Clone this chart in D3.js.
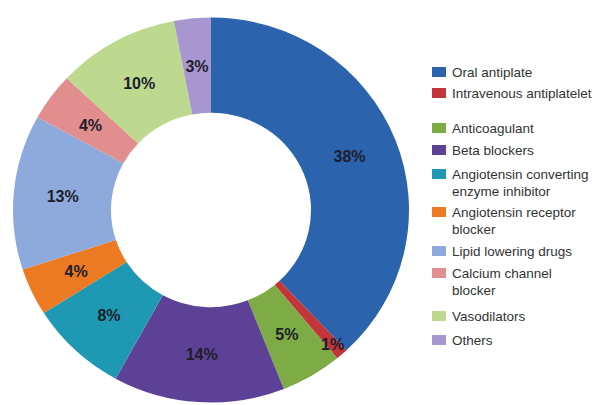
<!DOCTYPE html>
<html>
<head>
<meta charset="utf-8">
<script src="https://cdn.jsdelivr.net/npm/d3@7"></script>
<style>
  html, body { margin: 0; padding: 0; background: #fff; }
  svg { display: block; }
</style>
</head>
<body>
<svg id="chart" width="595" height="405"></svg>
<script>
// ---- data ----
const categories = [
  "Oral antiplate",
  "Intravenous antiplatelet",
  "Anticoagulant",
  "Beta blockers",
  "Angiotensin converting enzyme inhibitor",
  "Angiotensin receptor blocker",
  "Lipid lowering drugs",
  "Calcium channel blocker",
  "Vasodilators",
  "Others"
];
const values = [38, 1, 5, 14, 8, 4, 13, 4, 10, 3];
const legendLines = [
  ["Oral antiplate"],
  ["Intravenous antiplatelet"],
  ["Anticoagulant"],
  ["Beta blockers"],
  ["Angiotensin converting", "enzyme inhibitor"],
  ["Angiotensin receptor", "blocker"],
  ["Lipid lowering drugs"],
  ["Calcium channel", "blocker"],
  ["Vasodilators"],
  ["Others"]
];
const colors = ["#2b63ad", "#c23639", "#7dab45", "#5d4196", "#1f98b4",
                "#ec7a22", "#8eaadd", "#e28d8e", "#bcd98f", "#a896d0"];

// ---- layout ----
const svg = d3.select("#chart");
const cx = 211, cy = 210, rOuter = 198, rInner = 100, squash = 0.972;

const color = d3.scaleOrdinal().domain(categories).range(colors);
const pie = d3.pie().sort(null).value(d => d.value);
const data = categories.map((c, i) => ({ name: c, value: values[i], lines: legendLines[i] }));
const arcs = pie(data);

const arc = d3.arc().innerRadius(rInner).outerRadius(rOuter);
const midArc = d3.arc().innerRadius((rInner + rOuter) / 2).outerRadius((rInner + rOuter) / 2);
const outerLabelArc = d3.arc().innerRadius(184).outerRadius(184);

const g = svg.append("g").attr("transform", `translate(${cx},${cy}) scale(1,${squash})`);
g.selectAll("path").data(arcs).enter().append("path")
  .attr("d", arc)
  .attr("fill", d => color(d.data.name));

// labels
svg.append("g").selectAll("text").data(arcs).enter().append("text")
  .attr("transform", d => {
    const c = (d.data.value < 2 ? outerLabelArc : midArc).centroid(d);
    return `translate(${cx + c[0]},${cy + c[1] * squash})`;
  })
  .attr("text-anchor", "middle")
  .attr("dy", "0.36em")
  .attr("font-family", "Liberation Sans, Arial, sans-serif")
  .attr("font-weight", "bold")
  .attr("font-size", 16)
  .attr("fill", "#1e1e2a")
  .text(d => d.data.value + "%");

// legend
const legendY = [72, 93, 128, 150, 174, 212, 251, 273, 316, 340];
const lg = svg.append("g");
const items = lg.selectAll("g").data(data).enter().append("g")
  .attr("transform", (d, i) => `translate(432,${legendY[i]})`);
items.append("rect")
  .attr("x", 0).attr("y", -5).attr("width", 14).attr("height", 10)
  .attr("fill", d => color(d.name));
items.each(function(d) {
  const t = d3.select(this).append("text")
    .attr("x", 20).attr("y", 0)
    .attr("font-family", "Liberation Sans, Arial, sans-serif")
    .attr("font-size", 13.5)
    .attr("fill", "#333");
  d.lines.forEach((ln, j) => {
    t.append("tspan").attr("x", 20).attr("dy", j === 0 ? "0.35em" : "17px").text(ln);
  });
});
</script>
</body>
</html>
